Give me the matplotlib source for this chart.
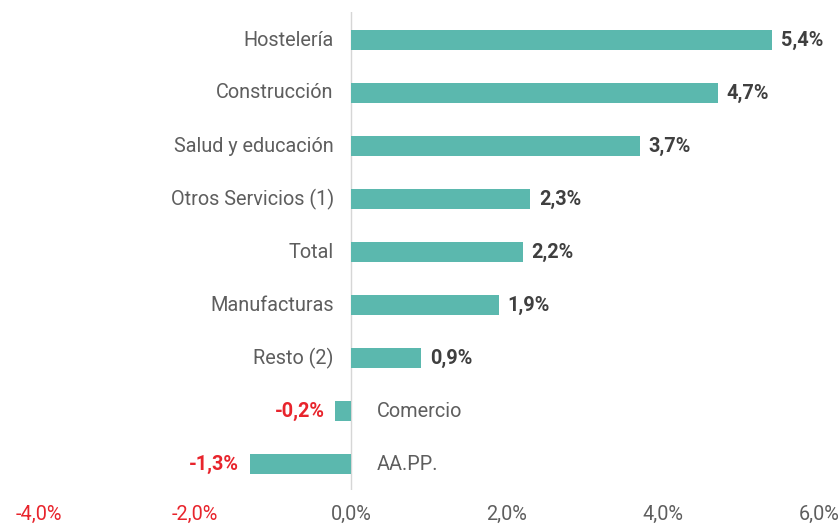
import matplotlib
matplotlib.use("Agg")
import matplotlib.pyplot as plt

categories = ["Hostelería", "Construcción", "Salud y educación", "Otros Servicios (1)",
              "Total", "Manufacturas", "Resto (2)", "Comercio", "AA.PP."]
values = [5.4, 4.7, 3.7, 2.3, 2.2, 1.9, 0.9, -0.2, -1.3]
xticks = [-4, -2, 0, 2, 4, 6]
xtick_labels = ["-4,0%", "-2,0%", "0,0%", "2,0%", "4,0%", "6,0%"]

TEAL = "#5BB8AE"
RED = "#E8242C"
GRAY = "#5E5E5E"
DARK = "#3F3F3F"

plt.rcParams['font.family'] = ['Roboto', 'DejaVu Sans']

fig = plt.figure(figsize=(8.4, 5.25), dpi=100)
# axes spanning pixel rows 12..490
ax = fig.add_axes([0, 35/525, 1, 478/525])
ys = list(range(len(categories)))
ax.barh(ys, values, height=0.38, color=TEAL, zorder=2)
ax.set_xlim(-4.5, 6.27)
top = -(40 - 12) / 53
bottom = top + 478 / 53
ax.set_ylim(bottom, top)
ax.axvline(0, color="#D6D6D6", lw=1, zorder=1)

FS = 14.3
for y, v, c in zip(ys, values, categories):
    lbl = f"{v:.1f}%".replace(".", ",")
    if v >= 0:
        ax.text(v + 0.11, y, lbl, ha="left", va="center", fontsize=FS,
                fontweight="bold", color=DARK)
        ax.text(-0.22, y, c, ha="right", va="center", fontsize=FS, color=GRAY)
    else:
        ax.text(v - 0.14, y, lbl, ha="right", va="center", fontsize=FS,
                fontweight="bold", color=RED)
        ax.text(0.33, y, c, ha="left", va="center", fontsize=FS, color=GRAY)

ax.set_yticks([])
ax.set_xticks(xticks)
ax.set_xticklabels(xtick_labels, fontsize=FS)
for t, v in zip(ax.get_xticklabels(), xticks):
    t.set_color(RED if v < 0 else GRAY)
ax.tick_params(axis="x", length=0, pad=11)
for s in ax.spines.values():
    s.set_visible(False)

fig.savefig("out.png", dpi=100, facecolor="white")
